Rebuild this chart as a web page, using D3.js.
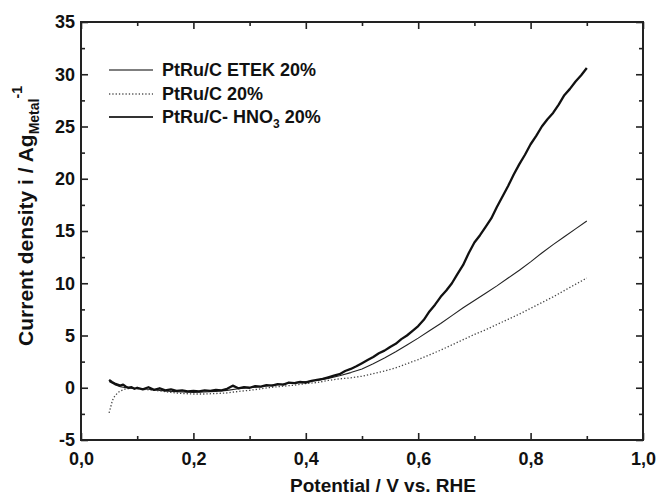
<!DOCTYPE html>
<html>
<head>
<meta charset="utf-8">
<script src="https://cdn.jsdelivr.net/npm/d3@7"></script>
<style>
  body { margin: 0; background: #fff; }
  text { font-family: "Liberation Sans", Arial, sans-serif; font-weight: bold; fill: #111; }
</style>
</head>
<body>
<div id="wrapper"></div>
<script>
// data: potential (V vs RHE) and current density (A/g metal)
const etekV = [0.05, 0.06, 0.07, 0.08, 0.10, 0.12, 0.14, 0.16, 0.18, 0.20, 0.22, 0.24, 0.26, 0.28, 0.30,
  0.32, 0.34, 0.36, 0.38, 0.40, 0.42, 0.44, 0.46, 0.48, 0.50, 0.52, 0.54, 0.56, 0.58, 0.60, 0.62, 0.64,
  0.66, 0.68, 0.70, 0.72, 0.74, 0.76, 0.78, 0.80, 0.82, 0.84, 0.86, 0.88, 0.90]
const etekI = [0.6, 0.3, 0.1, 0.0, -0.1, -0.15, -0.25, -0.35, -0.4, -0.45, -0.4, -0.35, -0.25, -0.1, 0.0,
  0.1, 0.25, 0.35, 0.5, 0.6, 0.7, 0.9, 1.15, 1.45, 1.8, 2.3, 2.85, 3.45, 4.1, 4.75, 5.45, 6.15,
  6.9, 7.65, 8.35, 9.05, 9.75, 10.5, 11.25, 12.05, 12.9, 13.7, 14.45, 15.2, 15.95]

const plainV = [0.05, 0.053, 0.056, 0.06, 0.065, 0.07, 0.08, 0.09, 0.10, 0.12, 0.14, 0.16, 0.18, 0.20,
  0.22, 0.24, 0.26, 0.28, 0.30, 0.32, 0.34, 0.36, 0.38, 0.40, 0.42, 0.44, 0.46, 0.48, 0.50, 0.52, 0.54,
  0.56, 0.58, 0.60, 0.62, 0.64, 0.66, 0.68, 0.70, 0.72, 0.74, 0.76, 0.78, 0.80, 0.82, 0.84, 0.86, 0.88, 0.90]
const plainI = [-2.4, -1.8, -1.2, -0.8, -0.5, -0.3, -0.1, -0.05, -0.1, -0.2, -0.3, -0.45, -0.55, -0.6,
  -0.6, -0.55, -0.5, -0.35, -0.25, -0.1, 0.05, 0.15, 0.25, 0.4, 0.5, 0.7, 0.85, 0.95, 1.1, 1.35, 1.6,
  1.9, 2.3, 2.7, 3.15, 3.6, 4.1, 4.6, 5.1, 5.55, 6.05, 6.55, 7.05, 7.6, 8.15, 8.7, 9.3, 9.9, 10.5]

const hno3V = [0.050, 0.055, 0.060, 0.065, 0.070, 0.075, 0.080, 0.085, 0.090, 0.095, 0.10, 0.11, 0.12,
  0.13, 0.14, 0.15, 0.16, 0.17, 0.18, 0.19, 0.20, 0.21, 0.22, 0.23, 0.24, 0.25, 0.26, 0.27, 0.28, 0.29,
  0.30, 0.31, 0.32, 0.33, 0.34, 0.35, 0.36, 0.37, 0.38, 0.39, 0.40, 0.41, 0.42, 0.43, 0.44, 0.45, 0.46,
  0.47, 0.48, 0.49, 0.50, 0.51, 0.52, 0.53, 0.54, 0.55, 0.56, 0.57, 0.58, 0.59, 0.60, 0.61, 0.62, 0.63,
  0.64, 0.65, 0.66, 0.67, 0.68, 0.69, 0.70, 0.71, 0.72, 0.73, 0.74, 0.75, 0.76, 0.77, 0.78, 0.79, 0.80,
  0.81, 0.82, 0.83, 0.84, 0.85, 0.86, 0.87, 0.88, 0.89, 0.90]
const hno3I = [0.75, 0.55, 0.4, 0.3, 0.2, 0.3, 0.1, 0.0, 0.05, -0.1, 0.0, -0.15, 0.05,
  -0.2, -0.05, -0.25, -0.15, -0.3, -0.25, -0.35, -0.3, -0.35, -0.25, -0.3, -0.2, -0.25, -0.1, 0.2, -0.05, 0.05,
  0.0, 0.15, 0.1, 0.25, 0.2, 0.35, 0.3, 0.5, 0.45, 0.55, 0.5, 0.65, 0.75, 0.85, 1.0, 1.15, 1.3,
  1.6, 1.8, 2.05, 2.35, 2.65, 2.95, 3.3, 3.55, 3.9, 4.2, 4.65, 5.0, 5.45, 5.9, 6.5, 7.3, 7.95,
  8.7, 9.3, 10.0, 10.9, 11.75, 12.9, 13.9, 14.6, 15.4, 16.2, 17.3, 18.3, 19.3, 20.4, 21.4, 22.3, 23.3,
  24.1, 25.0, 25.7, 26.3, 27.1, 28.0, 28.6, 29.3, 29.9, 30.6]

const seriesNames = ["PtRu/C ETEK 20%", "PtRu/C 20%", "PtRu/C- HNO3 20%"]

const xMajor = [0, 0.2, 0.4, 0.6, 0.8, 1.0]
const xMinor = [0.1, 0.3, 0.5, 0.7, 0.9]
const yMajor = [-5, 0, 5, 10, 15, 20, 25, 30, 35]
const yMinor = [-2.5, 2.5, 7.5, 12.5, 17.5, 22.5, 27.5, 32.5]

function drawChart() {
  const dimensions = {
    width: 657,
    height: 496,
    margin: { top: 22, right: 14, bottom: 56, left: 81 }
  }
  dimensions.boundedWidth = dimensions.width - dimensions.margin.left - dimensions.margin.right
  dimensions.boundedHeight = dimensions.height - dimensions.margin.top - dimensions.margin.bottom

  const wrapper = d3.select("#wrapper")
    .append("svg")
      .attr("width", dimensions.width)
      .attr("height", dimensions.height)

  const bounds = wrapper.append("g")
    .attr("transform", `translate(${dimensions.margin.left},${dimensions.margin.top})`)

  // scales
  const xScale = d3.scaleLinear()
    .domain([0, 1])
    .range([0, dimensions.boundedWidth])

  const yScale = d3.scaleLinear()
    .domain([-5, 35])
    .range([dimensions.boundedHeight, 0])

  const fmtX = d => d.toFixed(1).replace(".", ",")
  const fmtY = d => String(d)

  // axes: inward ticks, mirrored on top and right
  const styleAxis = g => {
    g.select(".domain").remove()
    g.selectAll(".tick line").attr("stroke", "#222").attr("stroke-width", 1.6)
    g.selectAll(".tick text")
      .attr("font-size", 18)
      .attr("font-family", "'Liberation Sans', Arial, sans-serif")
      .attr("font-weight", "bold")
      .attr("fill", "#111")
  }

  bounds.append("g")
    .attr("transform", `translate(0,${dimensions.boundedHeight})`)
    .call(d3.axisBottom(xScale).tickValues(xMajor).tickFormat(fmtX).tickSize(-7).tickPadding(12))
    .call(styleAxis)
  bounds.append("g")
    .attr("transform", `translate(0,${dimensions.boundedHeight})`)
    .call(d3.axisBottom(xScale).tickValues(xMinor).tickFormat("").tickSize(-4))
    .call(styleAxis)
  bounds.append("g")
    .call(d3.axisTop(xScale).tickValues(xMajor).tickFormat("").tickSize(-7))
    .call(styleAxis)
  bounds.append("g")
    .call(d3.axisTop(xScale).tickValues(xMinor).tickFormat("").tickSize(-4))
    .call(styleAxis)

  bounds.append("g")
    .call(d3.axisLeft(yScale).tickValues(yMajor).tickFormat(fmtY).tickSize(-7).tickPadding(6))
    .call(styleAxis)
  bounds.append("g")
    .call(d3.axisLeft(yScale).tickValues(yMinor).tickFormat("").tickSize(-4))
    .call(styleAxis)
  bounds.append("g")
    .attr("transform", `translate(${dimensions.boundedWidth},0)`)
    .call(d3.axisRight(yScale).tickValues(yMajor).tickFormat("").tickSize(-7))
    .call(styleAxis)
  bounds.append("g")
    .attr("transform", `translate(${dimensions.boundedWidth},0)`)
    .call(d3.axisRight(yScale).tickValues(yMinor).tickFormat("").tickSize(-4))
    .call(styleAxis)

  bounds.append("rect")
    .attr("width", dimensions.boundedWidth)
    .attr("height", dimensions.boundedHeight)
    .attr("fill", "none")
    .attr("stroke", "#222")
    .attr("stroke-width", 2)

  // lines
  const lineGenerator = d3.line()
    .x(d => xScale(d[0]))
    .y(d => yScale(d[1]))

  const seriesStyles = [
    { v: etekV, i: etekI, width: 1.1, color: "#222", dash: null },
    { v: plainV, i: plainI, width: 1.3, color: "#444", dash: "1.3,2" },
    { v: hno3V, i: hno3I, width: 2.3, color: "#111", dash: null }
  ]

  seriesStyles.forEach(s => {
    bounds.append("path")
      .datum(s.v.map((v, k) => [v, s.i[k]]))
      .attr("d", lineGenerator)
      .attr("fill", "none")
      .attr("stroke", s.color)
      .attr("stroke-width", s.width)
      .attr("stroke-dasharray", s.dash)
      .attr("stroke-linejoin", "round")
  })

  // legend
  const legend = wrapper.append("g")
  const legendY = [70, 94, 117]
  seriesStyles.forEach((s, k) => {
    legend.append("line")
      .attr("x1", 109).attr("x2", 153)
      .attr("y1", legendY[k]).attr("y2", legendY[k])
      .attr("stroke", k === 2 ? "#333" : "#555")
      .attr("stroke-width", k === 2 ? 1.8 : 1.4)
      .attr("stroke-dasharray", s.dash)
    const t = legend.append("text")
      .attr("x", 162)
      .attr("y", legendY[k] + 6)
      .attr("font-size", 18)
    if (k === 2) {
      t.append("tspan").text("PtRu/C- HNO")
      t.append("tspan").attr("font-size", 12).attr("dy", 5).text("3")
      t.append("tspan").attr("dy", -5).text(" 20%")
    } else {
      t.text(seriesNames[k])
    }
  })

  // axis labels
  wrapper.append("text")
    .attr("x", 383)
    .attr("y", 492)
    .attr("text-anchor", "middle")
    .attr("font-size", 19)
    .text("Potential / V vs. RHE")

  const yLabel = wrapper.append("text")
    .attr("transform", "translate(33,216) rotate(-90)")
    .attr("text-anchor", "middle")
    .attr("font-size", 21)
  yLabel.append("tspan").text("Current density i / Ag")
  yLabel.append("tspan").attr("font-size", 14).attr("dy", 6).text("Metal")
  yLabel.append("tspan").attr("font-size", 14).attr("dy", -17).text("-1")
}

drawChart()
</script>
</body>
</html>
